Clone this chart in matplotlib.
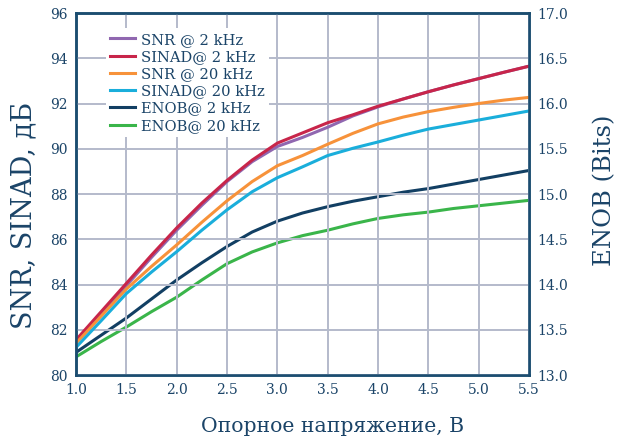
import numpy as np
import matplotlib
matplotlib.use("Agg")
import matplotlib.pyplot as plt

plt.rcParams['font.family'] = ['DejaVu Serif']

# reference voltage, V
vref = [1.0, 1.25, 1.5, 1.75, 2.0, 2.25, 2.5, 2.75, 3.0, 3.25, 3.5, 3.75,
        4.0, 4.25, 4.5, 4.75, 5.0, 5.25, 5.5]

# dB, left axis
snr_2k = [81.45, 82.7, 83.95, 85.2, 86.4, 87.5, 88.55, 89.43, 90.1, 90.5, 90.95,
          91.45, 91.85, 92.2, 92.52, 92.82, 93.1, 93.38, 93.65]
sinad_2k = [81.55, 82.8, 84.05, 85.3, 86.5, 87.6, 88.6, 89.5, 90.25, 90.7, 91.15,
            91.5, 91.88, 92.2, 92.52, 92.82, 93.1, 93.38, 93.65]
snr_20k = [81.4, 82.6, 83.8, 84.8, 85.75, 86.75, 87.7, 88.55, 89.25, 89.7, 90.2,
           90.68, 91.1, 91.4, 91.64, 91.83, 92.0, 92.15, 92.27]
sinad_20k = [81.22, 82.4, 83.6, 84.55, 85.45, 86.4, 87.3, 88.1, 88.72, 89.2, 89.7,
             90.02, 90.3, 90.6, 90.87, 91.07, 91.27, 91.47, 91.67]

# bits, right axis
enob_2k = [13.25, 13.44, 13.63, 13.84, 14.05, 14.24, 14.42, 14.58, 14.7, 14.79,
           14.86, 14.92, 14.97, 15.02, 15.06, 15.11, 15.16, 15.21, 15.26]
enob_20k = [13.2, 13.37, 13.53, 13.7, 13.86, 14.05, 14.23, 14.36, 14.46, 14.54,
            14.6, 14.67, 14.73, 14.77, 14.8, 14.84, 14.87, 14.9, 14.93]

txt = '#1b4468'
spine = '#1b4d70'
grid_c = '#b4bacb'

fig = plt.figure(figsize=(6.25, 4.38), dpi=100)
ax = fig.add_axes([0.1216, 0.1438, 0.7248, 0.8265])
ax2 = ax.twinx()

lw = 2.2
l1, = ax.plot(vref, snr_2k, color='#9067b0', lw=lw, label='SNR @ 2 kHz')
l2, = ax.plot(vref, sinad_2k, color='#c8254a', lw=lw, label='SINAD@ 2 kHz')
l3, = ax.plot(vref, snr_20k, color='#f7923a', lw=lw, label='SNR @ 20 kHz')
l4, = ax.plot(vref, sinad_20k, color='#1aaedb', lw=lw, label='SINAD@ 20 kHz')
l5, = ax2.plot(vref, enob_2k, color='#123f63', lw=lw, label='ENOB@ 2 kHz')
l6, = ax2.plot(vref, enob_20k, color='#3ab54a', lw=lw, label='ENOB@ 20 kHz')

ax.set_xlim(1.0, 5.5)
ax.set_ylim(80, 96)
ax2.set_ylim(13, 17)
xt = np.arange(1.0, 5.51, 0.5)
ax.set_xticks(xt)
ax.set_xticklabels(['%.1f' % v for v in xt])
ax.set_yticks(np.arange(80, 96.1, 2))
rt = np.arange(13, 17.01, 0.5)
ax2.set_yticks(rt)
ax2.set_yticklabels(['%.1f' % v for v in rt])

ax.grid(True, color=grid_c, lw=1.4)
ax.set_axisbelow(True)
ax.set_zorder(ax2.get_zorder() + 1)
ax.patch.set_visible(False)

for a in (ax, ax2):
    for s in a.spines.values():
        s.set_color(spine)
        s.set_linewidth(1.8)
    a.tick_params(length=0, labelsize=10, colors=txt, pad=6)

# axis titles
fig.text(333 / 625, 6 / 438, 'Опорное напряжение, В', fontsize=14.7,
         color=txt, ha='center', va='baseline')
fig.text(24 / 625, 1 - 215 / 438, 'SNR, SINAD, дБ', fontsize=19.5,
         color=txt, rotation=90, ha='center', va='center')
fig.text(605 / 625, 1 - 190 / 438, 'ENOB (Bits)', fontsize=17.5,
         color=txt, rotation=90, ha='center', va='center')

leg = ax.legend(handles=[l1, l2, l3, l4, l5, l6], loc='upper left',
                bbox_to_anchor=(0.066, 0.958), fontsize=10.6, frameon=True,
                handlelength=1.7, handletextpad=0.4, labelspacing=0.22,
                borderpad=0.3, borderaxespad=0)
leg.get_frame().set_facecolor('white')
leg.get_frame().set_edgecolor('none')
leg.get_frame().set_alpha(1)
for t in leg.get_texts():
    t.set_color(txt)

fig.savefig('out.png', dpi=100)
